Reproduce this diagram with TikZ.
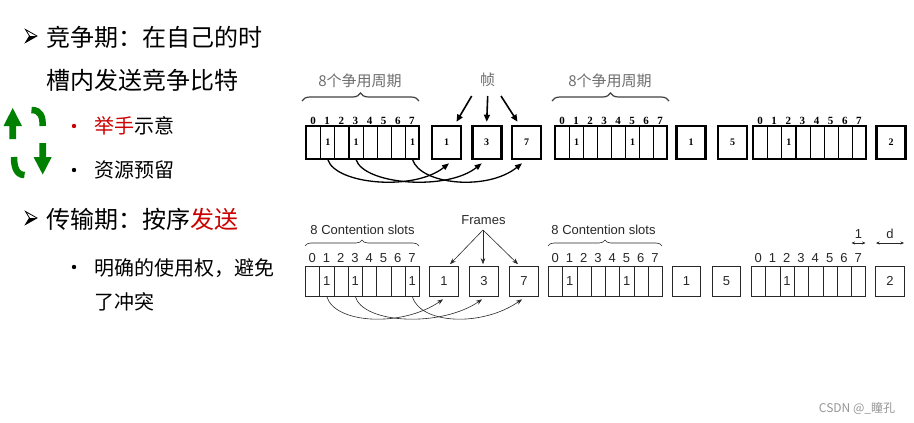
\documentclass[tikz,border=0pt]{standalone}
\usepackage{fontspec}
\setmainfont{Liberation Sans}
\newfontfamily\cjk{Noto Sans CJK SC}
\newfontfamily\tnr{Liberation Serif}
\usetikzlibrary{arrows.meta,calc,decorations.pathreplacing}
\definecolor{redT}{RGB}{204,0,0}
\definecolor{greenT}{RGB}{0,128,0}
\definecolor{grayT}{RGB}{110,110,110}
\definecolor{wmT}{RGB}{150,150,150}
\definecolor{inkB}{RGB}{40,40,40}
\begin{document}
\begin{tikzpicture}[x=1pt,y=-1pt,
  mainT/.style={anchor=base west, inner sep=0pt, font=\cjk\fontsize{24}{24}\selectfont},
  subT/.style={anchor=base west, inner sep=0pt, font=\cjk\fontsize{20}{20}\selectfont},
  slotT/.style={draw, line width=1.2pt, minimum width=#1, minimum height=33pt, inner sep=0pt, anchor=west, font=\tnr\bfseries\fontsize{10}{10}\selectfont},
  blockT/.style={draw, line width=2.6pt, minimum width=#1, minimum height=33pt, inner sep=0pt},
  frameT/.style={draw, line width=2.6pt, minimum width=29pt, minimum height=33pt, inner sep=0pt, font=\tnr\bfseries\fontsize{10}{10}\selectfont},
  numT/.style={inner sep=0pt, anchor=base, font=\tnr\bfseries\fontsize{11}{11}\selectfont},
  labT/.style={inner sep=0pt, text=grayT, font=\cjk\fontsize{15}{15}\selectfont},
  arrT/.style={line width=1.6pt, -{Triangle[length=7pt,width=6pt]}},
  curveT/.style={line width=1.3pt, -{Triangle[length=7pt,width=5.5pt]}},
  braceT/.style={decorate, decoration={brace, amplitude=8pt}, line width=1.2pt, grayT!60!black},
  slotB/.style={draw=inkB, line width=0.6pt, minimum width=#1, minimum height=30pt, inner sep=0pt, anchor=west, text=inkB, font=\fontsize{13}{13}\selectfont},
  frameB/.style={draw=inkB, line width=0.6pt, minimum width=28.5pt, minimum height=30pt, inner sep=0pt, text=inkB, font=\fontsize{13}{13}\selectfont},
  numB/.style={inner sep=0pt, anchor=base, text=inkB, font=\fontsize{13}{13}\selectfont},
  labB/.style={inner sep=0pt, text=inkB, font=\fontsize{13}{13}\selectfont},
  arrB/.style={inkB, line width=0.6pt, -{Stealth[length=6pt,width=4.5pt]}},
  curveB/.style={inkB, line width=0.6pt, -{Stealth[length=6pt,width=4.5pt]}},
  braceB/.style={decorate, decoration={brace, amplitude=6pt}, line width=0.6pt, inkB},
  dimB/.style={inkB, line width=0.6pt, {Stealth[length=3.5pt,width=3pt]}-{Stealth[length=3.5pt,width=3pt]}},
]
\fill[white] (0,0) rectangle (914,423);
\useasboundingbox (0,0) rectangle (914,423);

% ---------- left text ----------
\filldraw[fill=white, draw=black, line width=0.8pt] (25.5,29.5) -- (37,36) -- (25.5,42.5) -- (29.5,36) -- cycle;
\fill[black] (29.5,36) -- (37,36) -- (25.5,42.5) -- cycle;
\node[mainT] (t1) at (46,46) {竞争期：在自己的时};
\node[mainT] (t2) at (46,89) {槽内发送竞争比特};
\fill[redT] (74,126) circle (2.2pt);
\node[subT] (t3) at (94,133.5) {\textcolor{redT}{举手}示意};
\fill[black] (74,170) circle (2.2pt);
\node[subT] (t4) at (94,177.5) {资源预留};
\filldraw[fill=white, draw=black, line width=0.8pt] (25.5,211.5) -- (37,218) -- (25.5,224.5) -- (29.5,218) -- cycle;
\fill[black] (29.5,218) -- (37,218) -- (25.5,224.5) -- cycle;
\node[mainT] (t5) at (46,228) {传输期：按序\textcolor{redT}{发送}};
\fill[black] (74,267) circle (2.2pt);
\node[subT] (t6) at (94,275.5) {明确的使用权，避免};
\node[subT] (t7) at (94,309.5) {了冲突};

% green cycle
\fill[greenT] (12.7,108) -- (22,126) -- (16,126) -- (16,139) -- (9.3,139) -- (9.3,126) -- (3.5,126) -- cycle;
\fill[greenT] (42.7,174.5) -- (51.7,157) -- (46,157) -- (46,143) -- (39.3,143) -- (39.3,157) -- (33.5,157) -- cycle;
\draw[greenT, line width=6.5pt] (31.5,110) .. controls (41,110) and (42.7,117) .. (42.7,126);
\draw[greenT, line width=6.5pt] (14,157) .. controls (14,166) and (16,175) .. (24.5,175);

% ---------- top diagram ----------
\foreach \i/\t in {0/{},1/1,2/{},3/1,4/{},5/{},6/{},7/1} {
  \node[slotT=14.125pt] (ta\i) at ({306+\i*14.125},142.5) {\t};
  \node[numT] (tan\i) at ({306+(\i+0.5)*14.125},124) {\i};
}
\node[blockT=113pt] (tA) at (362.5,142.5) {};
\node[frameT] (tf1) at (446.5,142.5) {1};
\node[frameT] (tf3) at (486.7,142.5) {3};
\node[frameT] (tf7) at (526.5,142.5) {7};

\foreach \i/\t in {0/{},1/1,2/{},3/{},4/{},5/1,6/{},7/{}} {
  \node[slotT=14pt] (tb\i) at ({555+\i*14},142.5) {\t};
  \node[numT] (tbn\i) at ({555+(\i+0.5)*14},124) {\i};
}
\node[blockT=112pt] (tB) at (611,142.5) {};
\node[frameT] (tg1) at (691,142.5) {1};
\node[frameT] (tg5) at (732.5,142.5) {5};
\foreach \i/\t in {0/{},1/{},2/1,3/{},4/{},5/{},6/{},7/{}} {
  \node[slotT=14.125pt] (tc\i) at ({753+\i*14.125},142.5) {\t};
  \node[numT] (tcn\i) at ({753+(\i+0.5)*14.125},124) {\i};
}
\node[blockT=113pt] (tC) at (809.5,142.5) {};
\node[frameT] (tg2) at (891,142.5) {2};

\draw[braceT] (302,101) -- (419,101);
\node[labT] (tl1) at (360,81) {8个争用周期};
\draw[braceT] (552,101) -- (669,101);
\node[labT] (tl2) at (610,81) {8个争用周期};
\node[labT] (tlz) at (487.7,80) {帧};
\coordinate (zl) at (471.7,96);
\coordinate (zm) at (487.7,96);
\coordinate (zr) at (501,96);
\draw[arrT] (zl) -- ($(tf1.north)+(10,-3)$);
\draw[arrT] (zm) -- ($(tf3.north)+(0,-3)$);
\draw[arrT] (zr) -- ($(tf7.north)+(-9,-3)$);

\draw[curveT] (ta1.south) .. controls +(8,25) and +(-35,28) .. ($(tf1.south)+(2.5,3)$);
\draw[curveT] (ta3.south) .. controls +(8,25) and +(-35,28) .. ($(tf3.south)+(-5,3)$);
\draw[curveT] (ta7.south) .. controls +(8,25) and +(-35,28) .. ($(tf7.south)+(-4.5,3)$);

% ---------- bottom diagram ----------
\foreach \i/\t in {0/{},1/1,2/{},3/1,4/{},5/{},6/{},7/1} {
  \node[slotB=14.25pt] (ba\i) at ({305+\i*14.25},281) {\t};
  \node[numB] (ban\i) at ({305+(\i+0.5)*14.25},262) {\i};
}
\node[frameB] (bf1) at (444,281) {1};
\node[frameB] (bf3) at (484,281) {3};
\node[frameB] (bf7) at (524,281) {7};
\foreach \i/\t in {0/{},1/1,2/{},3/{},4/{},5/1,6/{},7/{}} {
  \node[slotB=14.25pt] (bb\i) at ({548+\i*14.25},281) {\t};
  \node[numB] (bbn\i) at ({548+(\i+0.5)*14.25},262) {\i};
}
\node[frameB] (bg1) at (686.5,281) {1};
\node[frameB] (bg5) at (726.5,281) {5};
\foreach \i/\t in {0/{},1/{},2/1,3/{},4/{},5/{},6/{},7/{}} {
  \node[slotB=14.3pt] (bc\i) at ({751+\i*14.3},281) {\t};
  \node[numB] (bcn\i) at ({751+(\i+0.5)*14.3},262) {\i};
}
\node[frameB] (bg2) at (890,281) {2};

\draw[braceB] (305,246) -- (419,246);
\node[labB] (bl1) at (362.5,230) {8 Contention slots};
\draw[braceB] (548,246) -- (662,246);
\node[labB] (bl2) at (603.5,230) {8 Contention slots};
\node[labB] (blz) at (483.5,220.5) {Frames};
\coordinate (fz) at (483,230);
\draw[arrB] (fz) -- ($(bf1.north)+(6,-1.5)$);
\draw[arrB] (fz) -- ($(bf3.north)+(-1,-1.5)$);
\draw[arrB] (fz) -- ($(bf7.north)+(-6,-1.5)$);

\draw[curveB] (ba1.south) .. controls +(8,28) and +(-40,28) .. ($(bf1.south)+(-1,3)$);
\draw[curveB] (ba3.south) .. controls +(8,28) and +(-40,28) .. ($(bf3.south)+(-2,3)$);
\draw[curveB] (ba7.south) .. controls +(8,28) and +(-40,28) .. ($(bf7.south)+(-2,3)$);

\coordinate (d1a) at (851.5,243);
\coordinate (d1b) at (865.5,243);
\draw[dimB] (d1a) -- (d1b);
\node[labB, anchor=base] (dl1) at (858.5,238) {1};
\coordinate (dda) at (876,243);
\coordinate (ddb) at (904,243);
\draw[dimB] (dda) -- (ddb);
\node[labB, anchor=base] (dld) at (890,238) {d};

% watermark
\node[inner sep=0pt, text=wmT, font=\cjk\fontsize{12}{12}\selectfont] (wm) at (857,408) {CSDN @\_瞳孔};
\end{tikzpicture}
\end{document}
